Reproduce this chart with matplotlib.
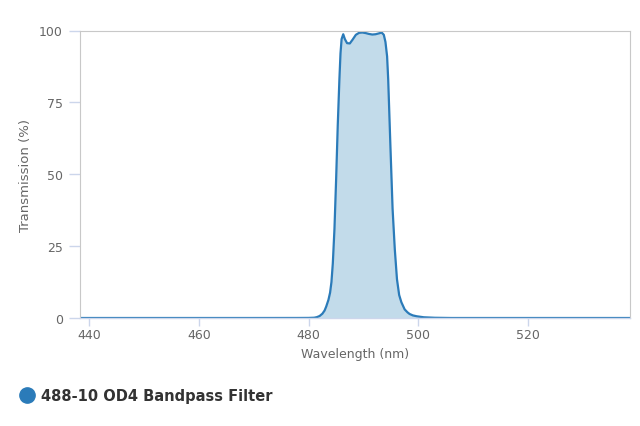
import matplotlib.pyplot as plt
from matplotlib.lines import Line2D

# transmission curve
wavelength = [438.0, 470.0, 478.0, 480.0, 481.0, 481.5, 482.0, 482.5, 482.9, 483.2,
              483.6, 483.9, 484.15, 484.4, 484.7, 485.0, 485.3, 485.6, 485.8, 486.0,
              486.3, 486.6, 487.0, 487.5, 488.0, 488.6, 489.2, 489.8, 490.4, 491.0,
              491.6, 492.2, 492.8, 493.3, 493.7, 494.0, 494.3, 494.5, 494.9, 495.3,
              495.7, 496.1, 496.5, 496.9, 497.5, 498.0, 498.4, 499.0, 499.7, 501.0,
              503.0, 506.0, 538.6]
transmission = [0.0, 0.0, 0.01, 0.03, 0.1, 0.3, 0.7, 1.5, 2.6, 4.0,
                6.3, 8.8, 12.5, 19.0, 31.0, 48.0, 67.0, 83.0, 92.0, 97.0,
                98.7, 97.0, 95.6, 95.5, 96.8, 98.5, 99.2, 99.3, 99.1, 98.8,
                98.6, 98.7, 99.0, 99.3, 98.5, 96.0, 91.0, 83.0, 60.0, 38.0,
                24.0, 13.5, 8.0, 5.5, 3.0, 2.0, 1.4, 0.9, 0.6, 0.25,
                0.08, 0.0, 0.0]

x_ticks = [440, 460, 480, 500, 520]
y_ticks = [0, 25, 50, 75, 100]
series_name = '488-10 OD4 Bandpass Filter'

line_color = '#2b7bb9'
fill_color = '#c2dbea'
axis_color = '#ccd6eb'
frame_color = '#c8c8c8'
text_color = '#666666'

plt.rcParams['font.family'] = ['DejaVu Sans']

fig = plt.figure(figsize=(6.4, 4.27), dpi=100)
ax = fig.add_axes([79.5 / 640, 108 / 427, 550.5 / 640, 287.5 / 427])

ax.fill_between(wavelength, transmission, 0, color=fill_color, linewidth=0)
ax.plot(wavelength, transmission, color=line_color, linewidth=1.6)

ax.set_xlim(438.2, 538.6)
ax.set_ylim(0, 100)
ax.set_xticks(x_ticks)
ax.set_yticks(y_ticks)

for side in ['top', 'left', 'right']:
    ax.spines[side].set_color(frame_color)
    ax.spines[side].set_linewidth(0.8)
ax.spines['bottom'].set_color(axis_color)
ax.spines['bottom'].set_linewidth(1.0)

ax.tick_params(axis='x', colors=axis_color, labelcolor=text_color, length=6,
               width=1, labelsize=9, pad=1.5)
ax.tick_params(axis='y', colors=axis_color, labelcolor=text_color, length=8,
               width=1, labelsize=9, pad=4)

ax.set_xlabel('Wavelength (nm)', color=text_color, fontsize=9, labelpad=4)
ax.set_ylabel('Transmission (%)', color=text_color, fontsize=9.5, labelpad=5)

# legend below the chart
handle = Line2D([], [], marker='o', linestyle='none', markersize=11,
                markerfacecolor=line_color, markeredgecolor=line_color)
leg = fig.legend([handle], [series_name], loc='center left',
                 bbox_to_anchor=(5 / 640, 1 - 397 / 427), frameon=False,
                 handletextpad=0.35, handlelength=1.2,
                 prop={'family': ['DejaVu Sans'], 'weight': 'bold', 'size': 10.5})
for t in leg.get_texts():
    t.set_color('#333333')

fig.savefig('out.png', dpi=100)
